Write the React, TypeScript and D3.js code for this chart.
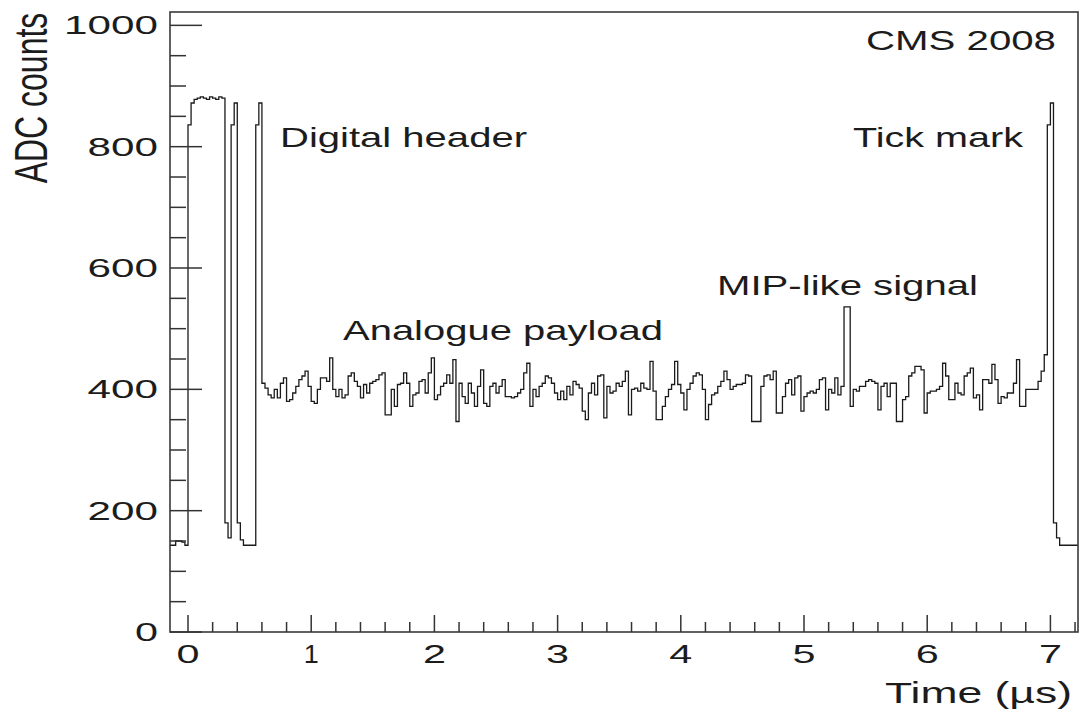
import { useMemo } from 'react';
import * as d3 from 'd3';

// bin layout of the readout frame (25 ns samples)
const binWidth = 0.025;
const firstEdge = -0.15;

// ADC values, bin by bin
const pedestalBefore = [143, 143, 150, 150, 148, 143];
const digitalHeader = [
  836, 872, 878, 880, 882, 880, 878, 882, 880, 878, 882, 880,
  180, 155, 836, 872, 180, 152, 143, 143, 143, 143, 836, 872,
];
const analoguePayload = [
  410, 402, 391, 386, 400, 386, 410, 419, 380, 383,
  394, 405, 416, 422, 430, 405, 380, 377, 400, 419,
  419, 413, 452, 400, 388, 400, 386, 391, 422, 427,
  413, 405, 386, 408, 394, 410, 413, 416, 424, 427,
  358, 358, 400, 372, 408, 410, 427, 410, 372, 391,
  394, 413, 416, 394, 427, 452, 383, 391, 405, 410,
  424, 410, 449, 347, 410, 388, 377, 410, 394, 372,
  405, 432, 377, 372, 405, 410, 394, 405, 416, 388,
  388, 386, 388, 394, 400, 427, 443, 372, 400, 388,
  405, 410, 422, 419, 410, 394, 383, 397, 383, 405,
  391, 413, 408, 402, 364, 350, 394, 410, 391, 422,
  424, 353, 405, 394, 397, 410, 405, 413, 430, 358,
  400, 402, 397, 410, 402, 400, 446, 397, 350, 350,
  372, 388, 400, 408, 446, 408, 394, 366, 400, 410,
  422, 427, 424, 400, 350, 375, 391, 394, 405, 413,
  430, 416, 400, 405, 408, 408, 410, 424, 422, 347,
  347, 347, 405, 422, 424, 416, 430, 361, 361, 388,
  410, 416, 391, 419, 422, 364, 388, 394, 397, 394,
  400, 416, 419, 366, 400, 394, 419, 391, 405, 536,
  536, 372, 400, 397, 405, 405, 413, 416, 413, 410,
  366, 405, 410, 388, 410, 410, 347, 347, 383, 388,
  422, 427, 438, 438, 432, 361, 394, 397, 397, 400,
  405, 443, 422, 383, 383, 410, 394, 391, 422, 427,
  435, 386, 391, 366, 416, 416, 410, 441, 416, 377,
  388, 386, 394, 394, 410, 449, 372, 372, 400, 400,
  400, 400, 413, 430, 457,
];
const tickMark = [836, 872, 180, 155];
const pedestalAfter = [143, 143, 143, 143, 143, 143];

const yTickValues = d3.range(0, 1001, 50);
const xTickValues = d3.range(0, 37).map((i) => +(i * 0.2).toFixed(1));

const W = 1081;
const H = 713;
const frame = { left: 170, right: 1078, top: 12, bottom: 632 };
const font = '"Liberation Sans", Arial, Helvetica, sans-serif';

// text squeezed/stretched to the width it takes in the original
function Label(props) {
  return (
    <text
      x={props.x}
      y={props.y}
      fontSize={props.size}
      textLength={props.w}
      lengthAdjust={props.w ? 'spacingAndGlyphs' : undefined}
      textAnchor={props.anchor || 'start'}
      transform={props.transform}
      fill="#1c1c1c"
      fontFamily={font}
    >
      {props.children}
    </text>
  );
}

export default function App() {
  const x = d3.scaleLinear().domain([-0.1461, 7.224]).range([frame.left, frame.right]);
  const y = d3.scaleLinear().domain([0, 1022]).range([frame.bottom, frame.top]);

  const values = useMemo(
    () => [...pedestalBefore, ...digitalHeader, ...analoguePayload, ...tickMark, ...pedestalAfter],
    []
  );

  const path = useMemo(() => {
    const pts = values.map((v, i) => [firstEdge + i * binWidth, v]);
    pts.push([firstEdge + values.length * binWidth, values[values.length - 1]]);
    return d3
      .line()
      .x((d) => x(d[0]))
      .y((d) => y(d[1]))
      .curve(d3.curveStepAfter)(pts);
  }, [values]);

  const yMajor = (v) => v % 200 === 0;
  const xMajor = (t) => Math.abs(t - Math.round(t)) < 1e-6;

  return (
    <svg width={W} height={H} style={{ position: 'absolute', left: 0, top: 0, background: '#fff' }}>
      <defs>
        <clipPath id="plot-area">
          <rect x={frame.left} y={frame.top} width={frame.right - frame.left} height={frame.bottom - frame.top} />
        </clipPath>
      </defs>

      <path d={path} fill="none" stroke="#1a1a1a" strokeWidth={1.3} clipPath="url(#plot-area)" />

      <rect
        x={frame.left}
        y={frame.top}
        width={frame.right - frame.left}
        height={frame.bottom - frame.top}
        fill="none"
        stroke="#3a3a3a"
        strokeWidth={1.6}
      />

      {yTickValues.map((v) => (
        <line
          key={`yt-${v}`}
          x1={frame.left}
          x2={frame.left + (yMajor(v) ? 32 : 16)}
          y1={y(v)}
          y2={y(v)}
          stroke="#333"
          strokeWidth={1.5}
        />
      ))}
      {xTickValues.map((t) => (
        <line
          key={`xt-${t}`}
          x1={x(t)}
          x2={x(t)}
          y1={frame.bottom}
          y2={frame.bottom - (xMajor(t) ? 17 : 10)}
          stroke="#333"
          strokeWidth={1.5}
        />
      ))}

      {yTickValues.filter(yMajor).map((v) => {
        const s = String(v);
        return (
          <Label key={`yl-${v}`} x={158} y={y(v) + 9} size={25} w={s === '0' ? 23 : s.length * 23.5} anchor="end">
            {s}
          </Label>
        );
      })}
      {xTickValues.filter(xMajor).map((t) => (
        <Label key={`xl-${t}`} x={x(t)} y={663} size={25} w={t === 1 ? 15 : 23} anchor="middle">
          {String(t)}
        </Label>
      ))}

      <Label x={1072} y={703} size={29} w={187} anchor="end">Time (µs)</Label>
      <Label x={0} y={0} size={32} anchor="middle" transform="translate(47,98) rotate(-90) scale(1,1.42)">
        ADC counts
      </Label>

      <Label x={1056} y={50} size={28} w={190} anchor="end">CMS 2008</Label>
      <Label x={280} y={147} size={28} w={247}>Digital header</Label>
      <Label x={853} y={147} size={28} w={170}>Tick mark</Label>
      <Label x={717} y={295} size={28} w={261}>MIP-like signal</Label>
      <Label x={343} y={340} size={28} w={320}>Analogue payload</Label>
    </svg>
  );
}
